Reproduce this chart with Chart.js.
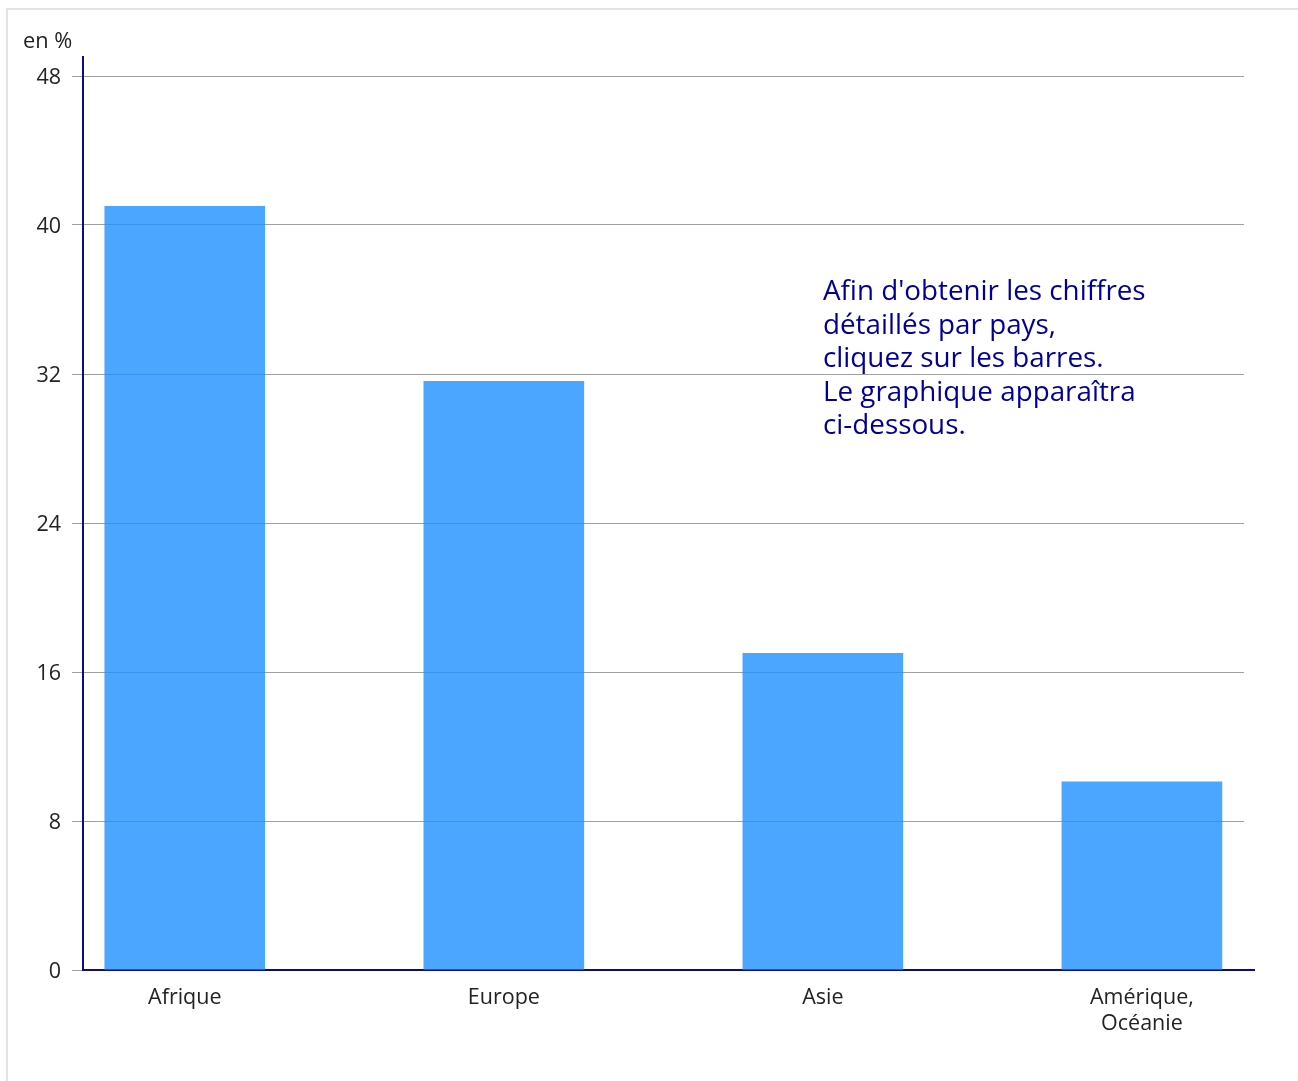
<!DOCTYPE html>
<html lang="fr">
<head>
<meta charset="utf-8">
<script src="https://cdn.jsdelivr.net/npm/chart.js@4/dist/chart.umd.min.js"></script>
<style>
  html, body { margin: 0; padding: 0; background: #fff; }
  body { width: 1298px; height: 1081px; overflow: hidden; position: relative; font-family: "Open Sans", "Noto Sans", sans-serif; }
  #frame { position: absolute; left: 6px; top: 8px; width: 1320px; height: 1100px; border: 2px solid #e3e3e3; box-sizing: border-box; }
  #wrap { position: absolute; left: 0; top: 0; width: 1298px; height: 1081px; }
  #note { position: absolute; left: 823px; top: 273px; color: #000099; font-size: 27.8px; line-height: 33.5px; }
</style>
</head>
<body>
<div id="frame"></div>
<div id="wrap"><canvas id="chart"></canvas></div>
<div id="note">Afin d'obtenir les chiffres<br>détaillés par pays,<br>cliquez sur les barres.<br>Le graphique apparaîtra<br>ci-dessous.</div>
<script>
const categories = ["Afrique", "Europe", "Asie", "Amérique, Océanie"];
const categoryLines = [["Afrique"], ["Europe"], ["Asie"], ["Amérique,", "Océanie"]];
const values = [41.0, 31.6, 17.0, 10.1];
const yTicks = [0, 8, 16, 24, 32, 40, 48];

const navy = "#0a0a8a";

const extras = {
  id: "extras",
  afterDraw(chart) {
    const { ctx, chartArea } = chart;
    ctx.save();
    ctx.strokeStyle = navy;
    ctx.lineWidth = 2;
    ctx.beginPath();
    ctx.moveTo(chartArea.left, chartArea.top - 20);
    ctx.lineTo(chartArea.left, chartArea.top);
    ctx.moveTo(chartArea.right, chartArea.bottom);
    ctx.lineTo(chartArea.right + 11, chartArea.bottom);
    ctx.stroke();
    ctx.fillStyle = "#222";
    ctx.font = '21.8px "Open Sans"';
    ctx.textBaseline = "middle";
    ctx.fillText("en %", 23, 42);
    ctx.restore();
  }
};

new Chart(document.getElementById("chart"), {
  type: "bar",
  data: {
    datasets: [{
      label: "en %",
      data: categories.map((c, i) => ({ x: i, y: values[i] })),
      backgroundColor: "rgba(30,144,255,0.8)",
      borderWidth: 0,
      barThickness: 160
    }]
  },
  options: {
    responsive: true,
    maintainAspectRatio: false,
    animation: false,
    layout: { padding: { top: 76, right: 54, left: 0, bottom: 0 } },
    plugins: { legend: { display: false }, tooltip: { enabled: false } },
    scales: {
      x: {
        type: "linear",
        offset: false,
        min: -0.319,
        max: 3.32,
        afterBuildTicks: s => { s.ticks = categories.map((c, i) => ({ value: i })); },
        afterFit: s => { s.height = 111; },
        grid: { display: false },
        border: { display: true, color: navy, width: 2 },
        ticks: {
          color: "#222",
          font: { family: "Open Sans", size: 21.5 },
          padding: 7,
          maxRotation: 0,
          autoSkip: false,
          callback: v => categoryLines[v]
        }
      },
      y: {
        min: 0,
        max: 48,
        afterBuildTicks: s => { s.ticks = yTicks.map(v => ({ value: v })); },
        afterFit: s => { s.width = 83; },
        grid: { color: "#a0a0a0", lineWidth: 1, tickLength: 11 },
        border: { display: true, color: navy, width: 2 },
        ticks: {
          color: "#222",
          font: { family: "Open Sans", size: 21.5 },
          padding: 11,
          labelOffset: 1.5
        }
      }
    }
  },
  plugins: [extras]
});
</script>
</body>
</html>
